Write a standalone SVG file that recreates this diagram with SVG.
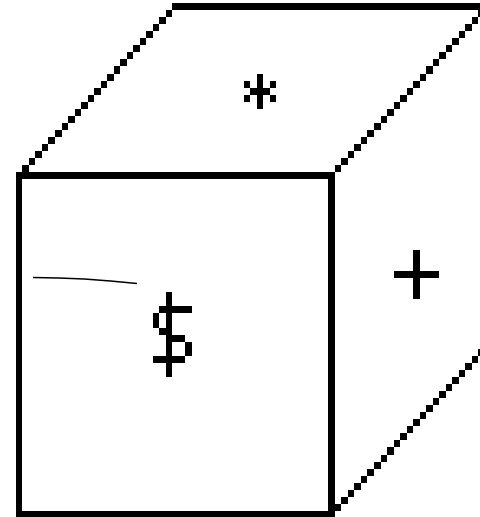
<svg xmlns="http://www.w3.org/2000/svg" width="480" height="517" viewBox="0 0 480 517">
<style>
.px{fill:#000;stroke:none;shape-rendering:crispEdges}
.pen{fill:none;stroke:#000;stroke-width:1.5;stroke-linecap:butt}
</style>
<rect width="480" height="517" fill="#fff"/>
<g transform="translate(2.92 3) scale(6.51 7.055)">
<g id="front-face">
<path class="px" fill-rule="evenodd" d="M2 24H51V73H2zM3 25V72H50V25z"/>
</g>
<g id="top-face">
<path class="px" d="M26 0H74V1H26z"/>
<path class="px" d="M3 23h1v1h-1zM4 22h1v1h-1zM5 21h1v1h-1zM6 20h1v1h-1zM7 19h1v1h-1zM8 18h1v1h-1zM9 17h1v1h-1zM10 16h1v1h-1zM11 15h1v1h-1zM12 14h1v1h-1zM13 13h1v1h-1zM14 12h1v1h-1zM15 11h1v1h-1zM16 10h1v1h-1zM17 9h1v1h-1zM18 8h1v1h-1zM19 7h1v1h-1zM20 6h1v1h-1zM21 5h1v1h-1zM22 4h1v1h-1zM23 3h1v1h-1zM24 2h1v1h-1zM25 1h1v1h-1z"/>
<path class="px" d="M51 23h1v1h-1zM52 22h1v1h-1zM53 21h1v1h-1zM54 20h1v1h-1zM55 19h1v1h-1zM56 18h1v1h-1zM57 17h1v1h-1zM58 16h1v1h-1zM59 15h1v1h-1zM60 14h1v1h-1zM61 13h1v1h-1zM62 12h1v1h-1zM63 11h1v1h-1zM64 10h1v1h-1zM65 9h1v1h-1zM66 8h1v1h-1zM67 7h1v1h-1zM68 6h1v1h-1zM69 5h1v1h-1zM70 4h1v1h-1zM71 3h1v1h-1zM72 2h1v1h-1zM73 1h1v1h-1z"/>
</g>
<g id="side-face">
<path class="px" d="M51 71h1v1h-1zM52 70h1v1h-1zM53 69h1v1h-1zM54 68h1v1h-1zM55 67h1v1h-1zM56 66h1v1h-1zM57 65h1v1h-1zM58 64h1v1h-1zM59 63h1v1h-1zM60 62h1v1h-1zM61 61h1v1h-1zM62 60h1v1h-1zM63 59h1v1h-1zM64 58h1v1h-1zM65 57h1v1h-1zM66 56h1v1h-1zM67 55h1v1h-1zM68 54h1v1h-1zM69 53h1v1h-1zM70 52h1v1h-1zM71 51h1v1h-1zM72 50h1v1h-1zM73 49h1v1h-1z"/>
</g>
<g id="asterisk-mark">
<path class="px" d="M39 10h1v5h-1zM38 12h3v1h-3zM37 11h1v1h-1zM37 13h1v1h-1zM41 11h1v1h-1zM41 13h1v1h-1z"/>
</g>
<g id="plus-mark">
<path class="px" d="M63 35h1v7h-1zM60 38h7v1h-7z"/>
</g>
<g id="dollar-mark">
<path class="px" d="M25 41h1v12h-1zM24 43h5v1h-5zM23 44h1v2h-1zM24 46h1v1h-1zM26 47h2v1h-2zM28 48h1v2h-1zM23 50h5v1h-5z"/>
</g>
</g>
<g id="pen-stroke">
<path class="pen" d="M33 277.5C60 277.6 100 279.5 137 283.6"/>
</g>
</svg>
